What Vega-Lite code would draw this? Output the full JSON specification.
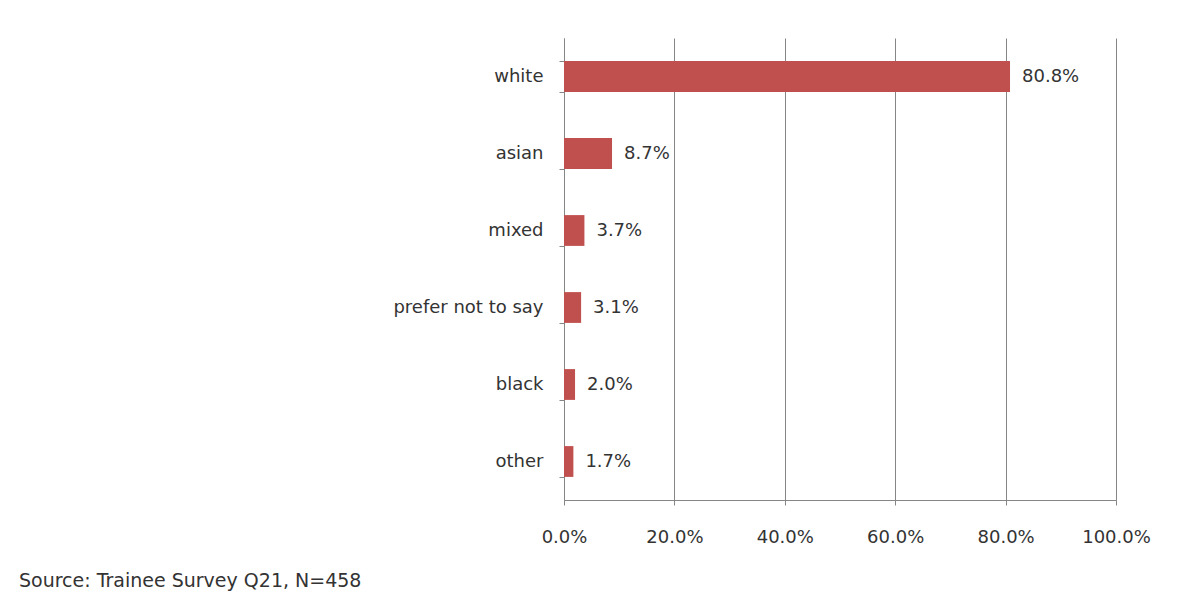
{
  "$schema": "https://vega.github.io/schema/vega-lite/v6.json",
  "width": 552,
  "height": 462,
  "autosize": {"type": "none"},
  "padding": {"left": 564, "top": 38, "right": 63, "bottom": 92},
  "background": "white",
  "config": {
    "view": {"stroke": null},
    "font": "DejaVu Sans"
  },
  "title": {
    "text": "Source: Trainee Survey Q21, N=458",
    "orient": "bottom",
    "anchor": "start",
    "frame": "group",
    "dx": -545,
    "offset": 26,
    "fontSize": 19,
    "fontWeight": "normal",
    "color": "#333333",
    "font": "DejaVu Sans"
  },
  "data": {
    "values": [
      {"category": "white", "value": 0.808},
      {"category": "asian", "value": 0.087},
      {"category": "mixed", "value": 0.037},
      {"category": "prefer not to say", "value": 0.031},
      {"category": "black", "value": 0.020},
      {"category": "other", "value": 0.017}
    ]
  },
  "encoding": {
    "y": {
      "field": "category",
      "type": "nominal",
      "sort": null,
      "scale": {"paddingInner": 0.6, "paddingOuter": 0.3},
      "axis": {
        "title": null,
        "tickBand": "extent",
        "tickSize": 5,
        "tickColor": "#868686",
        "domainColor": "#868686",
        "labelPadding": 16,
        "labelFontSize": 18,
        "labelColor": "#333333",
        "labelFont": "DejaVu Sans"
      }
    },
    "x": {
      "field": "value",
      "type": "quantitative",
      "scale": {"domain": [0, 1], "nice": false},
      "axis": {
        "title": null,
        "format": ".1%",
        "values": [0, 0.2, 0.4, 0.6, 0.8, 1.0],
        "grid": true,
        "gridColor": "#868686",
        "tickSize": 5,
        "tickColor": "#868686",
        "domainColor": "#868686",
        "labelFlush": false,
        "labelPadding": 23,
        "labelFontSize": 18,
        "labelColor": "#333333",
        "labelFont": "DejaVu Sans"
      }
    }
  },
  "layer": [
    {"mark": {"type": "bar", "color": "#C0504D"}},
    {
      "mark": {"type": "text", "align": "left", "dx": 12, "fontSize": 18, "color": "#333333", "font": "DejaVu Sans"},
      "encoding": {"text": {"field": "value", "type": "quantitative", "format": ".1%"}}
    }
  ]
}
